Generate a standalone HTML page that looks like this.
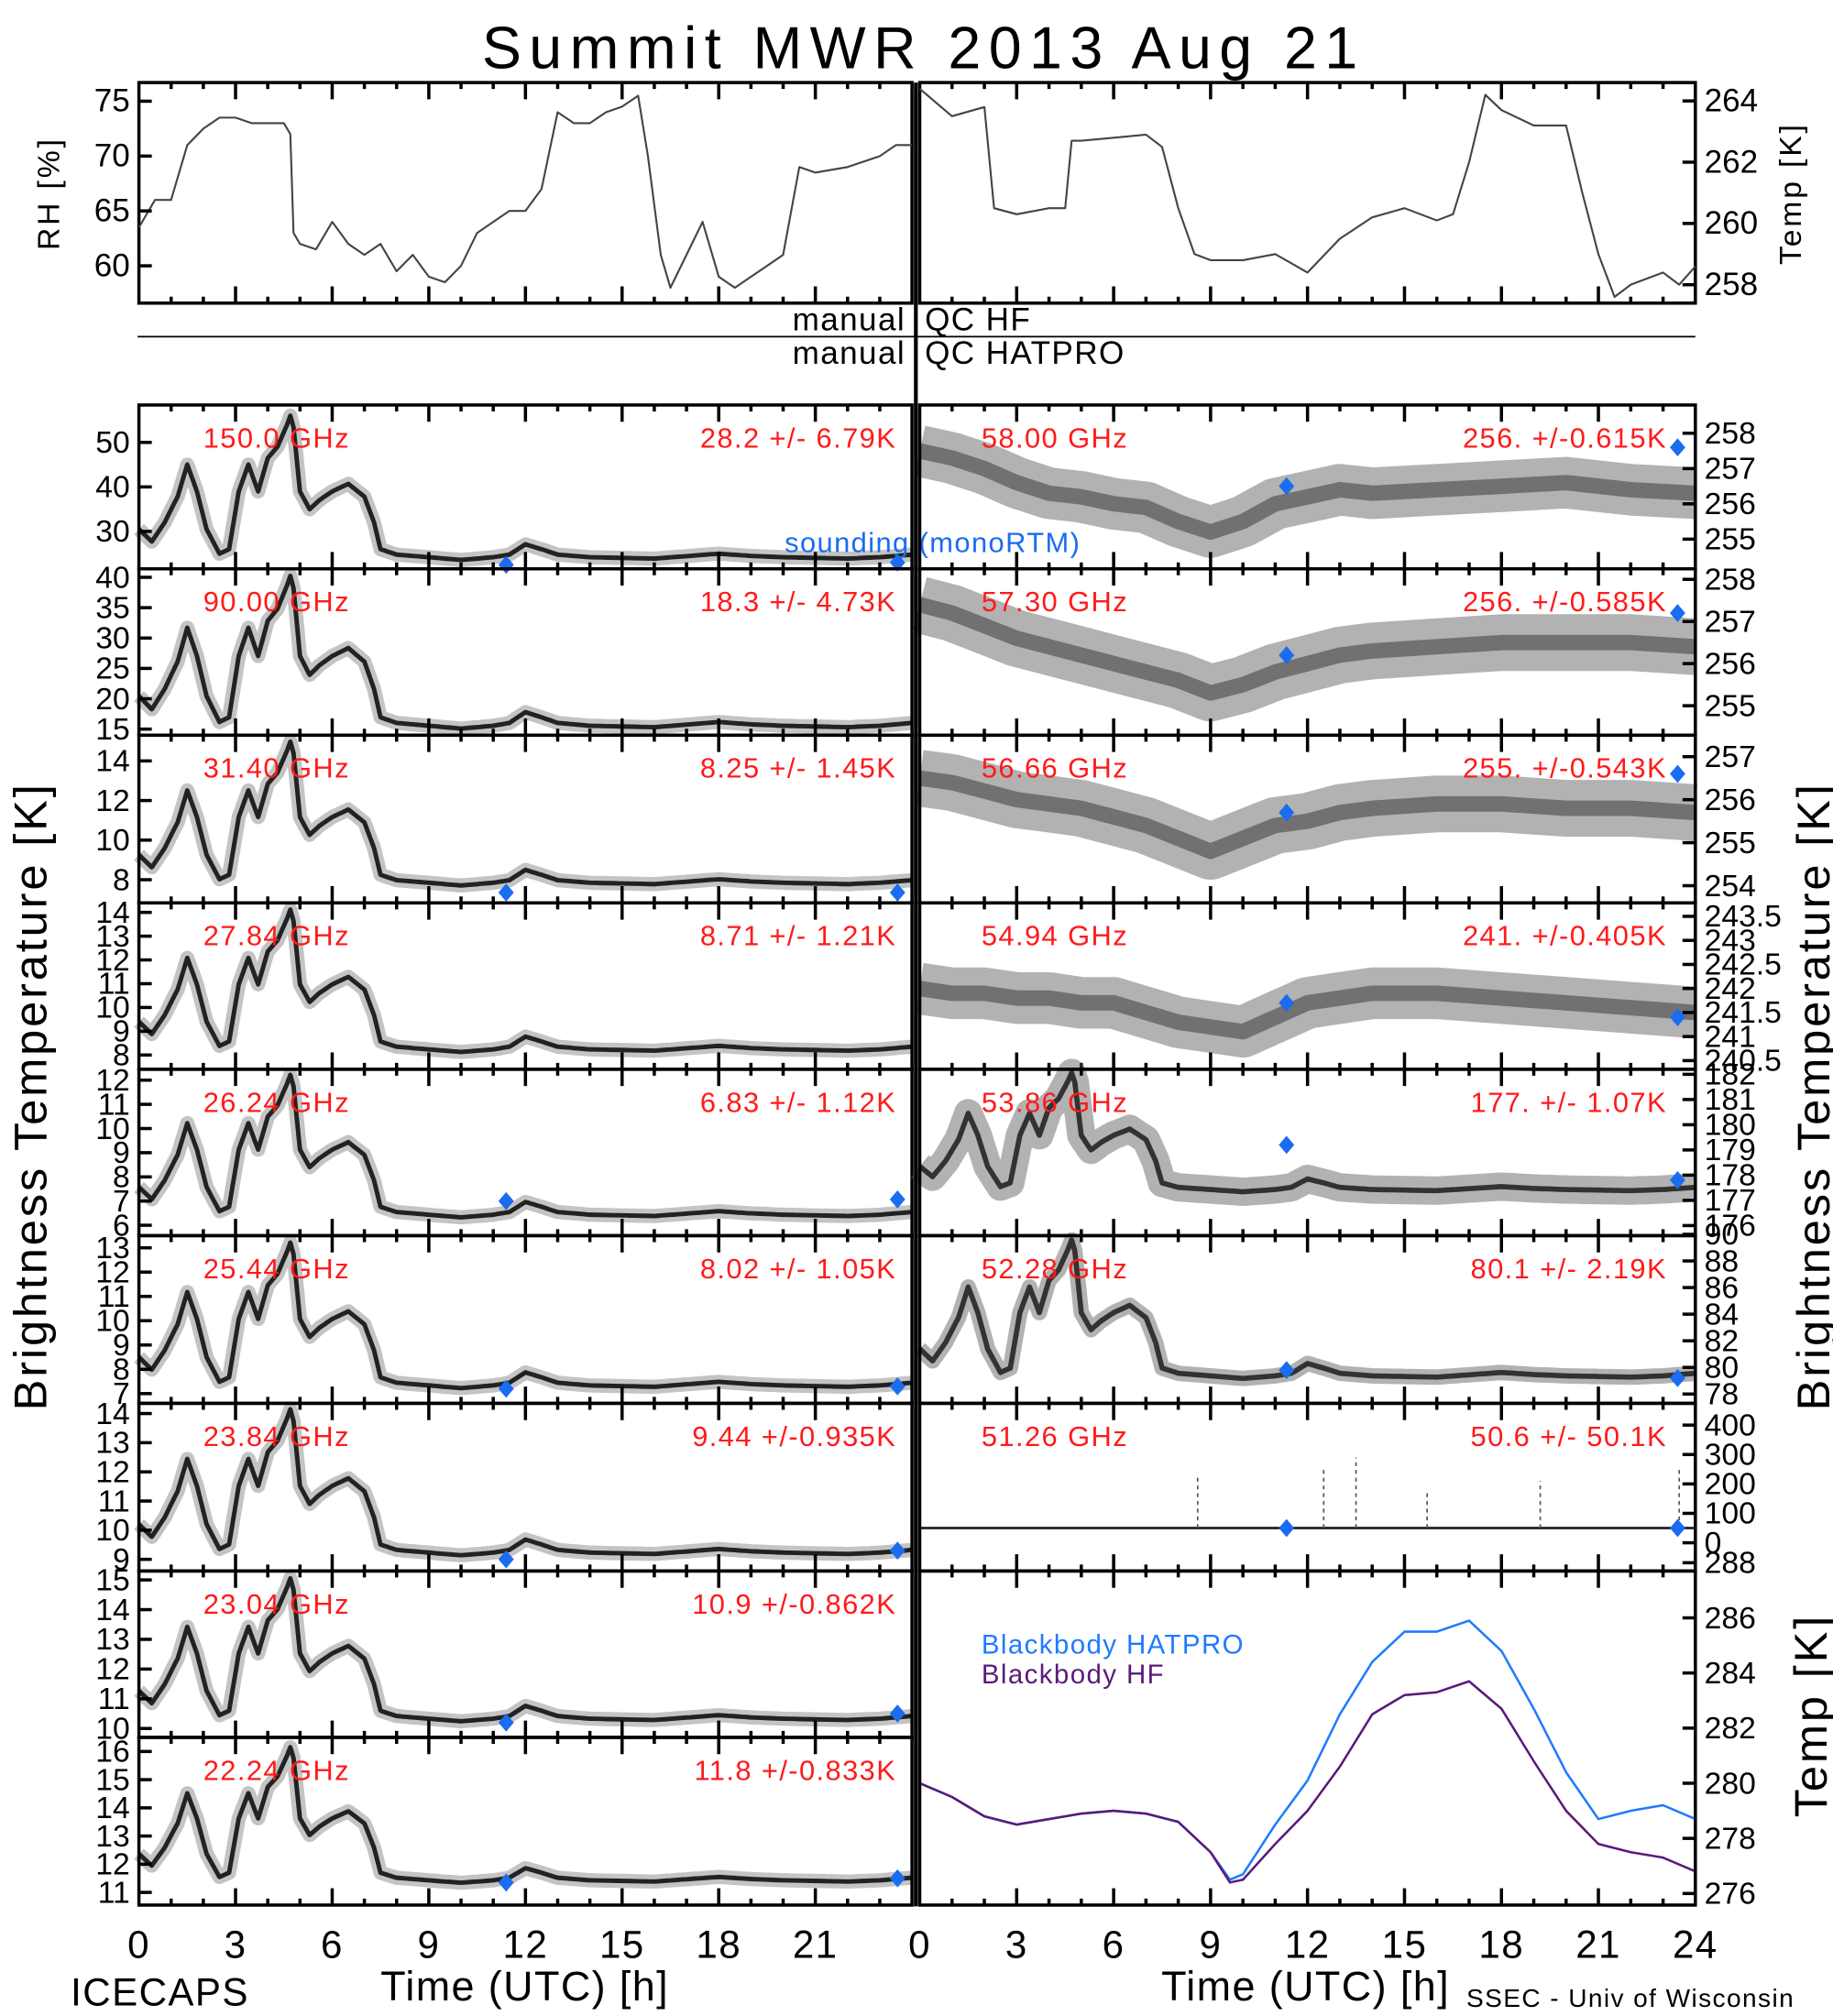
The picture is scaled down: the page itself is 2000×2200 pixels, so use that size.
<!DOCTYPE html>
<html><head><meta charset="utf-8"><title>Summit MWR 2013 Aug 21</title>
<style>html,body{margin:0;padding:0;background:#fff}svg{display:block}text{font-family:"Liberation Sans",sans-serif}</style>
</head><body>
<svg id="chart" xmlns="http://www.w3.org/2000/svg" width="2000" height="2200" viewBox="0 0 1425 1563" preserveAspectRatio="none">
<rect width="1425" height="1563" fill="#fff"/>
<text x="718" y="53" font-size="46" text-anchor="middle" letter-spacing="6" font-weight="300">Summit MWR 2013 Aug 21</text>
<g id="g"></g>
</svg>
<script>
// ---- data ----
const profTimes=[0,0.4,0.8,1.2,1.5,1.8,2.1,2.5,2.8,3.1,3.4,3.7,4.0,4.3,4.6,4.75,5.0,5.3,5.6,6.0,6.5,7.0,7.3,7.5,8,9,10,11,11.5,12,12.5,13,14,16,18,19,20,22,23,24];
const profVals=[30.5,27.7,32,37.8,45,39,30.5,25,26,39,45,39,46.5,49,54,57,39,35,37,39,40.7,37.8,32,26,24.8,24.2,23.6,24.2,24.8,27.1,26,24.8,24.2,23.9,25,24.5,24.2,23.9,24.2,24.8];
const leftChannels=["150.0 GHz","90.00 GHz","31.40 GHz","27.84 GHz","26.24 GHz","25.44 GHz","23.84 GHz","23.04 GHz","22.24 GHz"];
const leftStats=["28.2 +/-  6.79K","18.3 +/-  4.73K","8.25 +/- 1.45K","8.71 +/- 1.21K","6.83 +/- 1.12K","8.02 +/- 1.05K","9.44 +/-0.935K","10.9 +/-0.862K","11.8 +/-0.833K"];
const leftBase=[24,15.4,7.8,8.2,6.4,7.3,9.2,10.3,11.4];
const leftPeak=[57,41,15.2,14.3,12.4,13.4,14.3,15.2,16.3];
const leftMin=[21.6,14,6.83,7.4,5.57,6.6,8.6,9.7,10.55];
const leftMax=[58.4,41.4,15.3,14.4,12.45,13.5,14.35,15.3,16.5];
const leftTicks=[[50,40,30],[40,35,30,25,20,15],[14,12,10,8],[14,13,12,11,10,9,8],[12,11,10,9,8,7,6],[13,12,11,10,9,8,7],[14,13,12,11,10,9],[15,14,13,12,11,10],[16,15,14,13,12,11]];
const leftSondT=[11.4,23.55];
const leftSondV=[[22.5,23],null,[7.35,7.35],null,[7.0,7.07],[7.2,7.3],[9.0,9.3],[10.2,10.5],[11.35,11.5]];

const rightChannels=["58.00 GHz","57.30 GHz","56.66 GHz","54.94 GHz","53.86 GHz","52.28 GHz","51.26 GHz"];
const rightStats=["256. +/-0.615K","256. +/-0.585K","255. +/-0.543K","241. +/-0.405K","177. +/- 1.07K","80.1 +/- 2.19K","50.6 +/- 50.1K"];
const rightMin=[254.16,254.3,253.6,240.32,175.6,77.3,-96];
const rightMax=[258.8,258.25,257.5,243.78,182.2,89.9,474];
const rightTicks=[[258,257,256,255],[258,257,256,255],[257,256,255,254],[243.5,243,242.5,242,241.5,241,240.5],[182,181,180,179,178,177,176],[90,88,86,84,82,80,78],[400,300,200,100,0]];
const trendTimes=[0,1,2,3,4,5,6,7,8,9,10,11,12,13,14,16,18,20,22,24];
const trend58=[257.5,257.3,257,256.6,256.3,256.2,256,255.9,255.5,255.2,255.5,256,256.2,256.4,256.3,256.4,256.5,256.6,256.4,256.3];
const trend573=[257.4,257.2,256.9,256.6,256.4,256.2,256,255.8,255.6,255.3,255.5,255.8,256,256.2,256.3,256.4,256.5,256.5,256.5,256.4];
const trend5666=[256.5,256.4,256.2,256,255.9,255.8,255.6,255.4,255.1,254.8,255.1,255.4,255.5,255.7,255.8,255.9,255.9,255.8,255.8,255.7];
const trend5494=[242,241.9,241.9,241.8,241.8,241.7,241.7,241.5,241.3,241.2,241.1,241.4,241.7,241.8,241.9,241.9,241.8,241.7,241.6,241.5];
const rBase=[177.4,79.3];
const rPeak=[182.2,89.9];
const spikeTimes=[8.6,12.5,13.5,15.7,19.2,23.5];
const spikeVals=[230,260,290,180,210,260];
const flat5126=50;
const rightSondT=[11.35,23.45];
const rightSondV=[[256.5,257.6],[256.2,257.2],[255.7,256.6],[241.7,241.4],[179.2,177.8],[79.8,79.2],[50,50]];

const bbTimes=[0,1,2,3,4,5,6,7,8,9,9.6,10,11,12,13,14,15,16,17,18,19,20,21,22,23,24];
const bbHF=[280,279.5,278.8,278.5,278.7,278.9,279,278.9,278.6,277.5,276.4,276.5,277.8,279,280.6,282.5,283.2,283.3,283.7,282.7,280.8,279,277.8,277.5,277.3,276.8];
const bbHATPRO=[280,279.5,278.8,278.5,278.7,278.9,279,278.9,278.6,277.5,276.5,276.7,278.5,280.1,282.5,284.4,285.5,285.5,285.9,284.8,282.7,280.4,278.7,279,279.2,278.7];
const bbTicks=[288,286,284,282,280,278,276];

const rhTimes=[0,0.5,1,1.5,2,2.5,3,3.5,4,4.5,4.7,4.8,5,5.5,6,6.5,7,7.5,8,8.5,9,9.5,10,10.5,11,11.5,12,12.5,13,13.5,14,14.5,15,15.5,15.8,16.2,16.5,17,17.5,18,18.5,19,19.5,20,20.5,21,22,23,23.5,24];
const rhVals=[63.5,66,66,71,72.5,73.5,73.5,73,73,73,72,63,62,61.5,64,62,61,62,59.5,61,59,58.5,60,63,64,65,65,67,74,73,73,74,74.5,75.5,70,61,58,61,64,59,58,59,60,61,69,68.5,69,70,71,71];
const rhTicks=[75,70,65,60];
const tTimes=[0,1,2,2.3,3,4,4.5,4.7,5,6,7,7.5,8,8.5,9,10,11,12,13,14,15,16,16.5,17,17.5,18,19,20,20.5,21,21.5,22,23,23.5,24];
const tVals=[264.4,263.5,263.8,260.5,260.3,260.5,260.5,262.7,262.7,262.8,262.9,262.5,260.5,259,258.8,258.8,259,258.4,259.5,260.2,260.5,260.1,260.3,262,264.2,263.7,263.2,263.2,261,259,257.6,258,258.4,258,258.6];
const tTicks=[264,262,260,258];
const xTickLabels=[0,3,6,9,12,15,18,21,24];

// ---- helpers ----
const NS="http://www.w3.org/2000/svg";
const G=document.getElementById('g');
function mk(tag,attrs,parent){const e=document.createElementNS(NS,tag);for(const k in attrs)e.setAttribute(k,attrs[k]);(parent||G).appendChild(e);return e;}
const XL=[108,709],XR=[715,1318];
const rowsL=[314,441,570,700,829,958,1088,1218,1347,1477];
function xsc(col,t){const r=col?XR:XL;return r[0]+(r[1]-r[0])*t/24;}
function ysc(top,bot,min,max,v){return bot-(v-min)/(max-min)*(bot-top);}
function interp(ts,vs,t){for(let i=1;i<ts.length;i++){if(t<=ts[i]){const f=(t-ts[i-1])/(ts[i]-ts[i-1]);return vs[i-1]+f*(vs[i]-vs[i-1]);}}return vs[vs.length-1];}

function frame(col,top,bot,name){
  const x0=col?XR[0]:XL[0],x1=col?XR[1]:XL[1];
  const r=mk('rect',{x:x0,y:top,width:x1-x0,height:bot-top,fill:'none',stroke:'#000','stroke-width':2.5});
  
  
  let d='';
  for(let h=1;h<24;h++){const x=xsc(col,h);const L=(h%3==0)?13:5;d+=`M${x},${top}v${L}M${x},${bot}v${-L}`;}
  const p=mk('path',{d:d,stroke:'#000','stroke-width':2.5,fill:'none'});
  
  
}
function yTicks(col,top,bot,min,max,ticks,name,fs){
  const g=mk('g',{});
  
  
  ticks.forEach(v=>{
    const y=ysc(top,bot,min,max,v);
    if(col){mk('path',{d:`M${XR[1]},${y}h-10`,stroke:'#000','stroke-width':2.5},g);
      mk('text',{x:1325,y:y+8,'font-size':fs||24},g).textContent=v;}
    else{mk('path',{d:`M${XL[0]},${y}h10`,stroke:'#000','stroke-width':2.5},g);
      mk('text',{x:101,y:y+8,'font-size':fs||24,'text-anchor':'end'},g).textContent=v;}
  });
}
function line(col,top,bot,min,max,ts,vs,color,w,name,op){
  let d='';ts.forEach((t,i)=>{d+=(i?'L':'M')+xsc(col,t).toFixed(1)+','+ysc(top,bot,min,max,vs[i]).toFixed(1);});
  const p=mk('path',{d:d,fill:'none',stroke:color,'stroke-width':w,'stroke-linejoin':'round','stroke-opacity':op||1});
  
  
}
function diamond(x,y,name){
  const p=mk('path',{d:`M${x},${y-7}l6,7l-6,7l-6,-7z`,fill:'#1a6cf0'});
  
  
}
function label(x,y,txt,anchor,color,name,fs){
  const t=mk('text',{x:x,y:y,'font-size':fs||22,'text-anchor':anchor,fill:color,'letter-spacing':1});
  t.textContent=txt;
  
  
}

// ---- top panels ----
frame(0,64,235,'rh-panel');
line(0,64,235,56.6,76.7,rhTimes,rhVals,'#444',1.5,'rh-series');
yTicks(0,64,235,56.6,76.7,rhTicks,'rh',25);
frame(1,64,235,'temp-panel');
line(1,64,235,257.4,264.6,tTimes,tVals,'#444',1.5,'temp-series');
yTicks(1,64,235,257.4,264.6,tTicks,'temp',25);

// manual QC
mk('line',{x1:107,x2:1318,y1:261,y2:261,stroke:'#000','stroke-width':1.2});
label(704,256,'manual','end','#000','manual-qc-hf-left',25);
label(719,256,'QC HF','start','#000','manual-qc-hf-right',25);
label(704,282,'manual','end','#000','manual-qc-hatpro-left',25);
label(719,282,'QC HATPRO','start','#000','manual-qc-hatpro-right',25);

// ---- left channels ----
const fineT=[];for(let t=0;t<=24.001;t+=0.1)fineT.push(+t.toFixed(2));
for(let i=0;i<9;i++){
  const top=rowsL[i],bot=rowsL[i+1];
  const vals=fineT.map(t=>{const p=interp(profTimes,profVals,t);return leftBase[i]+(p-24)/(57-24)*(leftPeak[i]-leftBase[i]);});
  line(0,top,bot,leftMin[i],leftMax[i],fineT,vals,'#555',11,'series-band-'+i,0.35);
  line(0,top,bot,leftMin[i],leftMax[i],fineT,vals,'#111',3.5,'series-'+leftChannels[i].replace(/[ .]/g,''),0.9);
  frame(0,top,bot,'left-panel-'+i);
  yTicks(0,top,bot,leftMin[i],leftMax[i],leftTicks[i],'left-panel-'+i,24);
  label(158,top+33,leftChannels[i],'start','#ff1a1a','channel-label-left-'+i);
  label(697,top+33,leftStats[i],'end','#ff1a1a','stats-label-left-'+i);
  if(leftSondV[i])leftSondV[i].forEach((v,j)=>diamond(xsc(0,leftSondT[j]),ysc(top,bot,leftMin[i],leftMax[i],v),'sounding-left-'+i+'-'+j));
}
label(610,428,'sounding (monoRTM)','start','#1a6cf0','sounding-legend');

// ---- right channels ----
const trends=[trend58,trend573,trend5666,trend5494];
const bandW=[40,44,44,40];
for(let i=0;i<7;i++){
  const top=rowsL[i],bot=rowsL[i+1];
  if(i<4){
    line(1,top,bot,rightMin[i],rightMax[i],trendTimes,trends[i],'#666',bandW[i],'series-right-'+i,0.5);
    line(1,top,bot,rightMin[i],rightMax[i],trendTimes,trends[i],'#222',12,'series-right-core-'+i,0.45);
  }else if(i<6){
    const k=i-4;
    const vals=fineT.map(t=>{const p=interp(profTimes,profVals,t);return rBase[k]+(p-24)/(57-24)*(rPeak[k]-rBase[k]);});
    line(1,top,bot,rightMin[i],rightMax[i],fineT,vals,'#555',k==0?22:12,'series-right-band-'+i,0.45);
    line(1,top,bot,rightMin[i],rightMax[i],fineT,vals,'#111',4,'series-right-'+i,0.8);
  }else{
    line(1,top,bot,rightMin[i],rightMax[i],[0,24],[flat5126,flat5126],'#222',2,'series-right-6');
    spikeTimes.forEach((t,j)=>{const x=xsc(1,t);const p=mk('path',{d:`M${x},${ysc(top,bot,rightMin[i],rightMax[i],flat5126)}V${ysc(top,bot,rightMin[i],rightMax[i],spikeVals[j])}`,stroke:'#555','stroke-width':1.2,'stroke-dasharray':'3 3'});
      
      });
  }
  frame(1,top,bot,'right-panel-'+i);
  yTicks(1,top,bot,rightMin[i],rightMax[i],rightTicks[i],'right-panel-'+i,24);
  label(763,top+33,rightChannels[i],'start','#ff1a1a','channel-label-right-'+i);
  label(1296,top+33,rightStats[i],'end','#ff1a1a','stats-label-right-'+i);
  rightSondV[i].forEach((v,j)=>diamond(xsc(1,rightSondT[j]),ysc(top,bot,rightMin[i],rightMax[i],v),'sounding-right-'+i+'-'+j));
}

// ---- blackbody ----
line(1,1218,1477,275.58,287.7,bbTimes,bbHATPRO,'#1e7bff',1.8,'blackbody-hatpro-line');
line(1,1218,1477,275.58,287.7,bbTimes,bbHF,'#5a1a7a',1.8,'blackbody-hf-line');
frame(1,1218,1477,'blackbody-panel');
yTicks(1,1218,1477,275.58,287.7,bbTicks,'blackbody',24);
label(763,1282,'Blackbody HATPRO','start','#1e7bff','legend-hatpro',21);
label(763,1305,'Blackbody HF','start','#5a1a7a','legend-hf',21);

// center divider
mk('line',{x1:712,x2:712,y1:64,y2:1478,stroke:'#000','stroke-width':3});

// x labels
xTickLabels.forEach(v=>{
  if(v<24)label(xsc(0,v),1518,String(v),'middle','#000','x-tick-left-'+v,30);
  label(xsc(1,v),1518,String(v),'middle','#000','x-tick-right-'+v,30);
});
label(408,1551,'Time (UTC) [h]','middle','#000','x-axis-title-left',32);
label(1015,1551,'Time (UTC) [h]','middle','#000','x-axis-title-right',32);
label(55,1555,'ICECAPS','start','#000','icecaps-label',30);
label(1140,1556,'SSEC - Univ of Wisconsin','start','#000','ssec-credit',20);

// rotated axis titles
function vlabel(x,y,txt,fs,name){const t=mk('text',{x:0,y:0,'font-size':fs,'text-anchor':'middle','letter-spacing':2,transform:`translate(${x},${y}) rotate(-90)`});t.textContent=txt;
  
  }
vlabel(46,150,'RH [%]',24,'rh-axis-title');
vlabel(1400,150,'Temp [K]',24,'temp-axis-title');
vlabel(36,850,'Brightness Temperature [K]',36,'brightness-temp-title-left');
vlabel(1422,850,'Brightness Temperature [K]',36,'brightness-temp-title-right');
vlabel(1420,1330,'Temp [K]',36,'blackbody-temp-title');
</script>
</body></html>
